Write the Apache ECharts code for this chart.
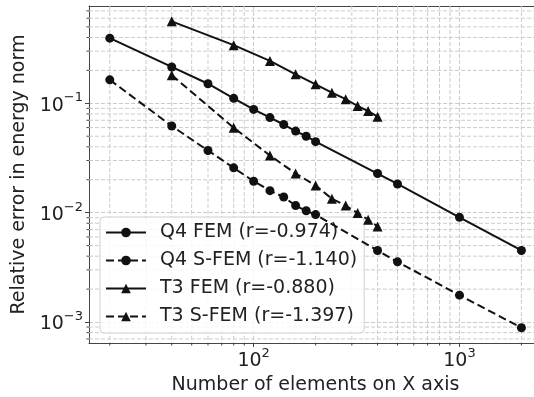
<!DOCTYPE html>
<html>
<head>
<meta charset="utf-8">
<script src="https://cdn.jsdelivr.net/npm/echarts@6/dist/echarts.min.js"></script>
<style>
  html, body { margin: 0; padding: 0; background: #fff; }
  #main { width: 534px; height: 397px; }
</style>
</head>
<body>
<div id="main"></div>
<script>
// number of elements
var q4Elements = [20, 40, 60, 80, 100, 120, 140, 160, 180, 200, 400, 500, 1000, 2000];
var t3Elements = [40, 80, 120, 160, 200, 240, 280, 320, 360, 400];

// relative error in energy norm
var q4Fem = [0.394, 0.215, 0.151, 0.111, 0.088, 0.074, 0.064, 0.0557, 0.050, 0.0446, 0.0228, 0.0183, 0.00906, 0.00451];
var q4Sfem = [0.164, 0.062, 0.037, 0.0257, 0.0194, 0.0159, 0.0139, 0.0116, 0.0104, 0.0096, 0.00451, 0.00355, 0.00176, 0.000887];
var t3Fem = [0.562, 0.340, 0.244, 0.184, 0.149, 0.125, 0.109, 0.0945, 0.085, 0.0755];
var t3Sfem = [0.181, 0.0598, 0.0333, 0.0228, 0.0177, 0.0134, 0.0116, 0.00993, 0.00863, 0.00748];

var seriesNames = ["Q4 FEM (r=-0.974)", "Q4 S-FEM (r=-1.140)", "T3 FEM (r=-0.880)", "T3 S-FEM (r=-1.397)"];

// minor ticks / grid
var xMinor = [20, 30, 40, 50, 60, 70, 80, 90, 200, 300, 400, 500, 600, 700, 800, 900, 2000];
var yMinor = [0.0007, 0.0008, 0.0009, 0.002, 0.003, 0.004, 0.005, 0.006, 0.007, 0.008, 0.009,
  0.02, 0.03, 0.04, 0.05, 0.06, 0.07, 0.08, 0.09, 0.2, 0.3, 0.4, 0.5, 0.6, 0.7];

var font = "DejaVu Sans";
var fs = 19;
var gridColor = "#cccccc";
var axisColor = "#444";

function pairs(xs, ys) {
  return xs.map(function (x, i) { return [x, ys[i]]; });
}

function powLabel(v) {
  var e = Math.round(Math.log10(v));
  return "{b|10}{s|" + String(e).replace("-", "\u2212") + "}";
}

var richLabel = {
  b: { fontFamily: font, fontSize: fs, color: "#222", lineHeight: 24, verticalAlign: "bottom" },
  s: { fontFamily: font, fontSize: 13, color: "#222", lineHeight: 24, verticalAlign: "top" }
};

var chartDom = document.getElementById("main");
var myChart = echarts.init(chartDom);
var option;

function lineSeries(name, data, dashed, symbol, size) {
  return {
    name: name,
    type: "line",
    data: data,
    symbol: symbol,
    symbolSize: size,
    z: 5,
    itemStyle: { color: "#111" },
    lineStyle: { color: "#111", width: 2, type: dashed ? [8, 4] : "solid" }
  };
}

option = {
  animation: false,
  grid: {
    left: 89, top: 6, width: 453, height: 337,
    outerBoundsMode: "none", containLabel: false
  },
  legend: {
    data: seriesNames,
    orient: "vertical",
    left: 100,
    top: 217,
    itemWidth: 40,
    itemHeight: 12,
    itemGap: 9,
    padding: [6, 7, 7, 5],
    backgroundColor: "rgba(255,255,255,0.85)",
    borderColor: "#d0d0d0",
    borderWidth: 1,
    borderRadius: 4,
    textStyle: { fontFamily: font, fontSize: fs, color: "#222", padding: [0, 0, 0, 9] }
  },
  xAxis: [
    {
      type: "log",
      logBase: 10,
      min: 15.85,
      max: 2518,
      name: "Number of elements on X axis",
      nameLocation: "middle",
      nameGap: 32,
      nameTextStyle: { fontFamily: font, fontSize: fs, color: "#222" },
      axisLine: { lineStyle: { color: axisColor, width: 1 } },
      axisTick: { length: 4, lineStyle: { color: axisColor } },
      axisLabel: { showMinLabel: false, showMaxLabel: false, margin: 4, formatter: powLabel, rich: richLabel },
      splitLine: { show: true, lineStyle: { color: gridColor, type: [4, 2] } }
    },
    {
      // top spine
      type: "log",
      logBase: 10,
      position: "top",
      min: 15.85,
      max: 2518,
      axisLine: { show: true, lineStyle: { color: axisColor, width: 1 } },
      axisTick: { show: false },
      axisLabel: { show: false },
      splitLine: { show: false }
    }
  ],
  yAxis: {
    type: "log",
    logBase: 10,
    min: 0.000643,
    max: 0.776,
    name: "Relative error in energy norm",
    nameLocation: "middle",
    nameGap: 55,
    nameTextStyle: { fontFamily: font, fontSize: fs, color: "#222" },
    axisLine: { show: true, lineStyle: { color: axisColor, width: 1 } },
    axisTick: { show: true, length: 4, lineStyle: { color: axisColor } },
    axisLabel: { showMinLabel: false, showMaxLabel: false, margin: 6, formatter: powLabel, rich: richLabel },
    splitLine: { show: true, lineStyle: { color: gridColor, type: [4, 2] } }
  },
  series: [
    {
      type: "custom",
      z: 1,
      silent: true,
      data: xMinor.map(function (v) { return [v, 0.01]; }),
      renderItem: function (params, api) {
        var cs = params.coordSys;
        var x = api.coord([api.value(0), api.value(1)])[0];
        return {
          type: "group",
          children: [
            { type: "line", shape: { x1: x, y1: cs.y, x2: x, y2: cs.y + cs.height },
              style: { stroke: gridColor, lineWidth: 1, lineDash: [4, 2] } },
            { type: "line", shape: { x1: x, y1: cs.y + cs.height, x2: x, y2: cs.y + cs.height + 2.5 },
              style: { stroke: axisColor, lineWidth: 1 } }
          ]
        };
      }
    },
    {
      type: "custom",
      z: 1,
      silent: true,
      data: yMinor.map(function (v) { return [100, v]; }),
      renderItem: function (params, api) {
        var cs = params.coordSys;
        var y = api.coord([api.value(0), api.value(1)])[1];
        return {
          type: "group",
          children: [
            { type: "line", shape: { x1: cs.x, y1: y, x2: cs.x + cs.width, y2: y },
              style: { stroke: gridColor, lineWidth: 1, lineDash: [4, 2] } },
            { type: "line", shape: { x1: cs.x - 2.5, y1: y, x2: cs.x, y2: y },
              style: { stroke: axisColor, lineWidth: 1 } }
          ]
        };
      }
    },
    lineSeries(seriesNames[0], pairs(q4Elements, q4Fem), false, "circle", 9),
    lineSeries(seriesNames[1], pairs(q4Elements, q4Sfem), true, "circle", 9),
    lineSeries(seriesNames[2], pairs(t3Elements, t3Fem), false, "triangle", 10),
    lineSeries(seriesNames[3], pairs(t3Elements, t3Sfem), true, "triangle", 10)
  ]
};

option && myChart.setOption(option);
</script>
</body>
</html>
